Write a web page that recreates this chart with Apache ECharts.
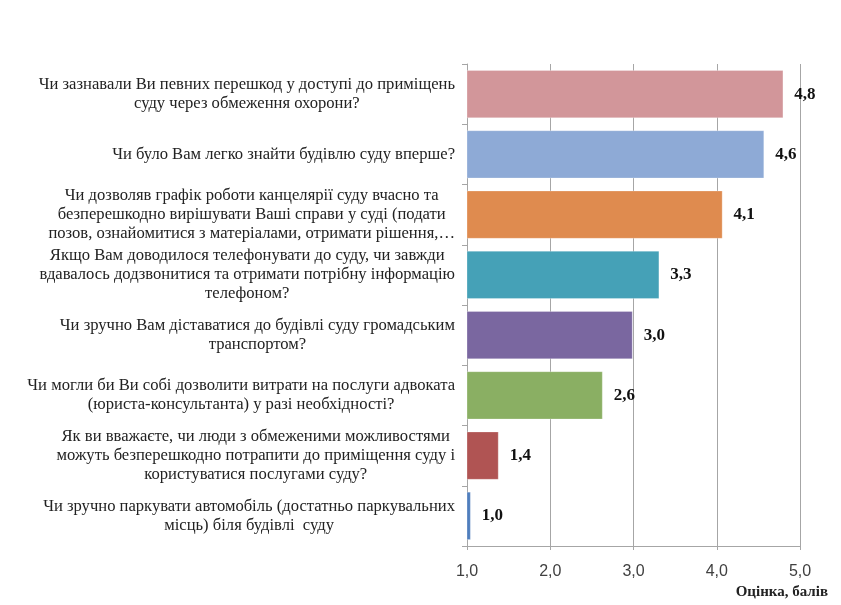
<!DOCTYPE html>
<html>
<head>
<meta charset="utf-8">
<script src="https://cdn.jsdelivr.net/npm/echarts@6/dist/echarts.min.js"></script>
<style>
  html, body { margin: 0; padding: 0; background: #fff; }
  #chart { width: 841px; height: 605px; }
</style>
</head>
<body>
<div id="chart"></div>
<script>
// Survey questions (top to bottom) and their average scores
const questions = [
  'Чи зазнавали Ви певних перешкод у доступі до приміщень\nсуду через обмеження охорони?',
  'Чи було Вам легко знайти будівлю суду вперше?',
  'Чи дозволяв графік роботи канцелярії суду вчасно та\nбезперешкодно вирішувати Ваші справи у суді (подати\nпозов, ознайомитися з матеріалами, отримати рішення,…',
  'Якщо Вам доводилося телефонувати до суду, чи завжди\nвдавалось додзвонитися та отримати потрібну інформацію\nтелефоном?',
  'Чи зручно Вам діставатися до будівлі суду громадським\nтранспортом?',
  'Чи могли би Ви собі дозволити витрати на послуги адвоката\n(юриста-консультанта) у разі необхідності?',
  'Як ви вважаєте, чи люди з обмеженими можливостями\nможуть безперешкодно потрапити до приміщення суду і\nкористуватися послугами суду?',
  'Чи зручно паркувати автомобіль (достатньо паркувальних\nмісць) біля будівлі  суду'
];
const scores = [4.80, 4.57, 4.07, 3.31, 2.99, 2.63, 1.38, 1.045];
const barColors = ['#D2969A', '#8EAAD6', '#DF8B4F', '#45A1B7', '#7A67A0', '#8AAF63', '#B05453', '#4F7EBD'];
const axisTicks = [1, 2, 3, 4, 5];
const axisTitle = 'Оцінка, балів';

const fmt = v => Number(v).toFixed(1).replace('.', ',');
const serif = '"Liberation Serif", "Times New Roman", serif';

const chart = echarts.init(document.getElementById('chart'), null, { renderer: 'canvas' });
chart.setOption({
  animation: false,
  backgroundColor: '#ffffff',
  grid: { left: 467, right: 41, top: 64, bottom: 59, containLabel: false },
  xAxis: {
    type: 'value',
    min: axisTicks[0],
    max: axisTicks[axisTicks.length - 1],
    interval: 1,
    axisLine: { show: true, lineStyle: { color: '#A6A6A6', width: 1 } },
    axisTick: { show: true, length: 4, lineStyle: { color: '#A6A6A6' } },
    splitLine: { show: true, lineStyle: { color: '#A6A6A6', width: 1 } },
    axisLabel: {
      margin: 18,
      fontFamily: '"Liberation Sans", Arial, sans-serif',
      fontSize: 16,
      color: '#404040',
      formatter: fmt
    }
  },
  yAxis: {
    type: 'category',
    inverse: true,
    data: questions,
    axisLine: { show: true, lineStyle: { color: '#A6A6A6', width: 1 } },
    axisTick: { show: true, length: 5, lineStyle: { color: '#A6A6A6' } },
    axisLabel: {
      interval: 0,
      margin: 12,
      formatter: v => v.split('\n').map(l => '{c|' + l + '}').join('\n'),
      rich: {
        c: { align: 'center', fontFamily: serif, fontSize: 16.6, lineHeight: 19, color: '#222222' }
      }
    }
  },
  series: [{
    type: 'bar',
    data: scores.map((v, i) => ({
      value: v,
      itemStyle: { color: barColors[i], borderColor: 'rgba(255,255,255,0.35)', borderWidth: 0.8 }
    })),
    barCategoryGap: '20%',
    clip: true,
    label: {
      show: true,
      position: 'right',
      distance: 11,
      fontFamily: serif,
      fontWeight: 'bold',
      fontSize: 17,
      color: '#111111',
      formatter: p => fmt(p.value)
    }
  }],
  graphic: [{
    type: 'text',
    right: 13,
    top: 585,
    style: {
      text: axisTitle,
      fontFamily: serif,
      fontWeight: 'bold',
      fontSize: 15,
      fill: '#222222'
    }
  }]
});
</script>
</body>
</html>
